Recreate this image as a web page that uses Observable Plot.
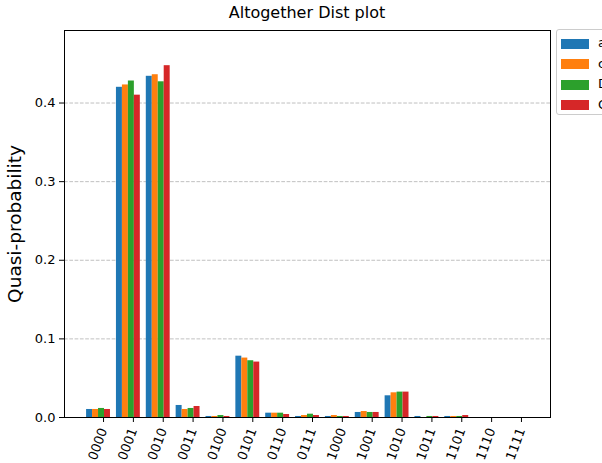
<!DOCTYPE html>
<html>
<head>
<meta charset="utf-8">
<script src="https://cdn.jsdelivr.net/npm/d3@7"></script>
<script src="https://cdn.jsdelivr.net/npm/@observablehq/plot@0.6"></script>
<style>
  html, body { margin: 0; padding: 0; background: #fff; overflow: hidden; }
  #wrap { position: relative; width: 602px; height: 463px; font-family: "DejaVu Sans", sans-serif; overflow: hidden; }
  #title { position: absolute; left: 64px; width: 486px; top: 5px; text-align: center; font-size: 16px; line-height: 16px; color: #000; }
  #chart { position: absolute; left: 0; top: 24px; }
  #legend { position: absolute; left: 556px; top: 29px; width: 80px; height: 86px; border: 1px solid #cccccc; border-radius: 3px; background: #fff; box-sizing: border-box; }
  .item { position: absolute; left: 4px; height: 12px; white-space: nowrap; font-size: 13px; line-height: 12px; }
  .sw { display: inline-block; width: 28px; height: 10px; vertical-align: middle; margin-right: 9px; }
</style>
</head>
<body>
<div id="wrap">
  <div id="title">Altogether Dist plot</div>
  <div id="chart"></div>
  <div id="legend"></div>
</div>
<script>
const categories = ["0000","0001","0010","0011","0100","0101","0110","0111","1000","1001","1010","1011","1101","1110","1111"];
const seriesNames = ["aer_simulator", "counts", "Dist", "Counts"];
const seriesColors = ["#1f77b4", "#ff7f0e", "#2ca02c", "#d62728"];
const seriesA = [0.0102, 0.420, 0.434, 0.0153, 0.0013, 0.0780, 0.0055, 0.0013, 0.0013, 0.0064, 0.0276, 0.0013, 0.0013, 0, 0];
const seriesB = [0.0102, 0.423, 0.436, 0.0102, 0.0013, 0.0756, 0.0055, 0.0025, 0.0025, 0.0076, 0.0314, 0,      0.0013, 0, 0];
const seriesC = [0.0115, 0.428, 0.427, 0.0115, 0.0025, 0.0722, 0.0055, 0.0042, 0.0013, 0.0064, 0.0323, 0.0013, 0.0013, 0, 0];
const seriesD = [0.0102, 0.410, 0.4475, 0.0140, 0.0013, 0.0705, 0.0038, 0.0025, 0.0013, 0.0064, 0.0323, 0.0013, 0.0025, 0, 0];
const yTicks = [0, 0.1, 0.2, 0.3, 0.4];

const allSeries = [seriesA, seriesB, seriesC, seriesD];
const nSeries = allSeries.length;
const barWidth = 1 / (nSeries + 1);
const rows = [];
allSeries.forEach((vals, s) => {
  vals.forEach((v, i) => {
    const x1 = i + (s - (nSeries - 1) / 2) * barWidth - barWidth / 2;
    rows.push({i, s, name: seriesNames[s], x1, x2: x1 + barWidth, v});
  });
});
const maxV = d3.max(rows, d => d.v);
const xPad = (categories.length - 1 + nSeries * barWidth) * 0.05;
const xMin = -nSeries * barWidth / 2 - xPad;
const xMax = categories.length - 1 + nSeries * barWidth / 2 + xPad;

const plot = Plot.plot({
  width: 602,
  height: 439,
  marginLeft: 64,
  marginRight: 52,
  marginTop: 6,
  marginBottom: 46,
  style: {fontFamily: "DejaVu Sans, sans-serif", fontSize: "13px", color: "#000", background: "transparent"},
  x: {type: "linear", domain: [xMin, xMax], axis: null},
  y: {domain: [0, maxV * 1.1], axis: null},
  color: {domain: seriesNames, range: seriesColors},
  marks: [
    Plot.gridY(yTicks.slice(1), {stroke: "#b0b0b0", strokeOpacity: 1, strokeDasharray: "3.7,1.6", strokeWidth: 0.8}),
    Plot.rectY(rows, {x1: "x1", x2: "x2", y1: 0, y2: "v", fill: "name", inset: 0}),
    Plot.frame({stroke: "#000", strokeWidth: 1}),
    Plot.axisY({ticks: yTicks, tickFormat: d3.format(".1f"), tickSize: 5, tickPadding: 4, label: null, fontSize: 13}),
    Plot.axisX({ticks: d3.range(categories.length), tickFormat: i => categories[i], tickSize: 5, tickPadding: 6, tickRotate: -70, dx: 5, label: null, fontSize: 13}),
    Plot.text(["Quasi-probability"], {frameAnchor: "left", textAnchor: "middle", rotate: -90, dx: -49, fontSize: 18.5, fill: "#000"})
  ]
});
document.getElementById("chart").appendChild(plot);

const legend = document.getElementById("legend");
seriesNames.forEach((name, s) => {
  const item = document.createElement("div");
  item.className = "item";
  item.style.top = (7 + s * 20.5) + "px";
  item.innerHTML = `<span class="sw" style="background:${seriesColors[s]}"></span>${name}`;
  legend.appendChild(item);
});
</script>
</body>
</html>
